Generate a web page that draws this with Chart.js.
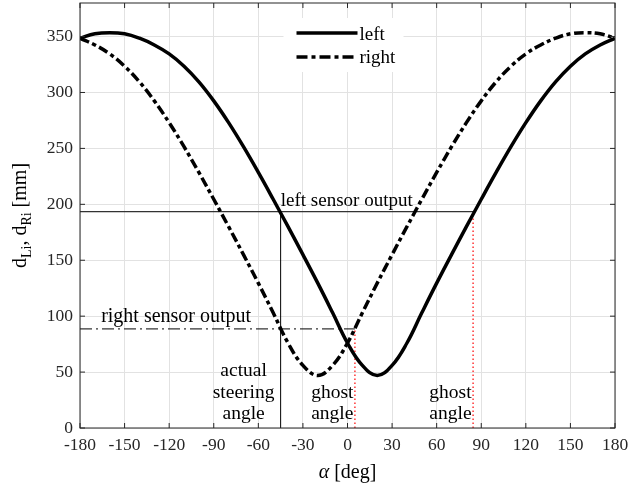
<!DOCTYPE html>
<html>
<head>
<script src="https://cdn.jsdelivr.net/npm/chart.js@4.4.1/dist/chart.umd.min.js"></script>
<style>
  body { margin: 0; background: #fff; }
</style>
</head>
<body>
<canvas id="myChart" width="629" height="491"></canvas>
<script>
// steering angle alpha [deg]
const alpha = [-180, -170, -160, -150, -140, -130, -120, -110, -100, -90, -80, -70, -60, -50, -40, -30, -20, -10,
  0, 10, 20, 30, 40, 50, 60, 70, 80, 90, 100, 110, 120, 130, 140, 150, 160, 170, 180]
// left sensor distance d_Li [mm]
const leftD = [348.5, 352.5, 353.5, 352.5, 348.5, 342.5, 334.5, 323.5, 309.5, 292.5, 273, 251.5, 228.5, 204.5, 180, 155, 129.5, 103,
  76, 56, 47, 56, 76, 103, 129.5, 155, 180, 204.5, 228.5, 251.5, 273, 292.5, 309.5, 323.5, 334.5, 342.5, 348.5]
// right sensor distance d_Ri [mm]
const rightD = [348.5, 342.5, 334.5, 323.5, 309.5, 292.5, 273, 251.5, 228.5, 204.5, 180, 155, 129.5, 103, 76, 56, 47, 56,
  76, 103, 129.5, 155, 180, 204.5, 228.5, 251.5, 273, 292.5, 309.5, 323.5, 334.5, 342.5, 348.5, 352.5, 353.5, 352.5, 348.5]

const leftSensor = 193.5    // left sensor output
const rightSensor = 88.6    // right sensor output
const actualAngle = -45
const ghostAngles = [5, 84.5]

const xTicks = [-180, -150, -120, -90, -60, -30, 0, 30, 60, 90, 120, 150, 180]
const yTicks = [0, 50, 100, 150, 200, 250, 300, 350]

const serif = "'Liberation Serif', 'DejaVu Serif', serif"
const pts = (xs, ys) => xs.map((v, i) => ({ x: v, y: ys[i] }))

// legend, box, inward ticks, labels
const extras = {
  id: 'extras',
  afterDatasetsDraw(chart) {
    const { ctx, chartArea: a, scales: { x, y } } = chart
    ctx.save()

    // axes box + ticks pointing inward
    ctx.strokeStyle = '#262626'
    ctx.lineWidth = 1
    ctx.setLineDash([])
    ctx.strokeRect(a.left, a.top, a.right - a.left, a.bottom - a.top)
    ctx.beginPath()
    xTicks.forEach(v => {
      const px = x.getPixelForValue(v)
      ctx.moveTo(px, a.bottom); ctx.lineTo(px, a.bottom - 5)
      ctx.moveTo(px, a.top); ctx.lineTo(px, a.top + 5)
    })
    yTicks.forEach(v => {
      const py = y.getPixelForValue(v)
      ctx.moveTo(a.left, py); ctx.lineTo(a.left + 5, py)
      ctx.moveTo(a.right, py); ctx.lineTo(a.right - 5, py)
    })
    ctx.stroke()

    // legend
    const cx = (a.left + a.right) / 2
    ctx.fillStyle = '#fff'
    ctx.fillRect(cx - 64, 18, 120, 54)
    ctx.strokeStyle = '#000'
    ctx.lineWidth = 3.5
    ctx.lineCap = 'butt'
    ctx.beginPath(); ctx.moveTo(cx - 51, 33); ctx.lineTo(cx + 10, 33); ctx.stroke()
    ctx.setLineDash([11, 4, 4, 4])
    ctx.beginPath(); ctx.moveTo(cx - 51, 57); ctx.lineTo(cx + 10, 57); ctx.stroke()
    ctx.setLineDash([])
    ctx.fillStyle = '#000'
    ctx.font = '19px ' + serif
    ctx.textAlign = 'left'
    ctx.textBaseline = 'alphabetic'
    ctx.fillText('left', cx + 12, 39.5)
    ctx.fillText('right', cx + 12, 62.5)

    // annotations
    ctx.font = '19px ' + serif
    ctx.textAlign = 'center'
    ctx.fillText('left sensor output', x.getPixelForValue(-0.5), y.getPixelForValue(leftSensor) - 6)
    ctx.font = '20px ' + serif
    ctx.fillText('right sensor output', x.getPixelForValue(-115.3), y.getPixelForValue(rightSensor) - 7)
    ctx.font = '19.5px ' + serif
    const ax = x.getPixelForValue(actualAngle) - 37
    ctx.fillText('actual', ax, a.bottom - 52)
    ctx.fillText('steering', ax, a.bottom - 30)
    ctx.fillText('angle', ax, a.bottom - 9)
    ctx.textAlign = 'right'
    ghostAngles.forEach(g => {
      const gx = x.getPixelForValue(g) - 1.5
      ctx.fillText('ghost', gx, a.bottom - 30)
      ctx.fillText('angle', gx, a.bottom - 9)
    })

    // x axis title: α [deg]
    ctx.textAlign = 'left'
    ctx.font = 'italic 20px ' + serif
    const wA = ctx.measureText('α').width
    ctx.font = '20px ' + serif
    const wR = ctx.measureText(' [deg]').width
    const tx = cx - (wA + wR) / 2
    ctx.font = 'italic 20px ' + serif
    ctx.fillText('α', tx, 478)
    ctx.font = '20px ' + serif
    ctx.fillText(' [deg]', tx + wA, 478)

    // y axis title: d_Li, d_Ri [mm]
    const parts = [['d', 0], ['Li', 1], [', d', 0], ['Ri', 1], [' [mm]', 0]]
    const fontOf = s => s ? '14px ' + serif : '20px ' + serif
    let total = 0
    parts.forEach(p => { ctx.font = fontOf(p[1]); total += ctx.measureText(p[0]).width })
    ctx.translate(26, (a.top + a.bottom) / 2)
    ctx.rotate(-Math.PI / 2)
    let px = -total / 2
    parts.forEach(p => {
      ctx.font = fontOf(p[1])
      ctx.fillText(p[0], px, p[1] ? 5 : 0)
      px += ctx.measureText(p[0]).width
    })
    ctx.restore()
  }
}

const refLine = (data, color, width, dash) => ({
  data: data, borderColor: color, borderWidth: width, borderDash: dash,
  pointRadius: 0, fill: false, tension: 0
})

const config = {
  type: 'line',
  data: {
    datasets: [
      {
        label: 'left', data: pts(alpha, leftD), borderColor: '#000', borderWidth: 3.5,
        pointRadius: 0, fill: false, tension: 0.4, borderCapStyle: 'butt'
      },
      {
        label: 'right', data: pts(alpha, rightD), borderColor: '#000', borderWidth: 3.5,
        borderDash: [10, 3.5, 4, 3.5], pointRadius: 0, fill: false,
        tension: 0.4, borderCapStyle: 'butt'
      },
      refLine([{ x: -180, y: leftSensor }, { x: ghostAngles[1], y: leftSensor }], '#333', 1.2, []),
      refLine([{ x: actualAngle, y: 0 }, { x: actualAngle, y: leftSensor }], '#000', 1, []),
      refLine([{ x: -180, y: rightSensor }, { x: ghostAngles[0], y: rightSensor }], '#000', 1, [12, 4, 2, 4]),
      refLine([{ x: ghostAngles[0], y: 0 }, { x: ghostAngles[0], y: rightSensor }], '#ff0000', 1.2, [1.5, 2.5]),
      refLine([{ x: ghostAngles[1], y: 0 }, { x: ghostAngles[1], y: leftSensor }], '#ff0000', 1.2, [1.5, 2.5])
    ]
  },
  options: {
    responsive: false,
    devicePixelRatio: 1,
    animation: false,
    layout: { padding: { top: 3, right: 14, left: 0, bottom: 0 } },
    plugins: { legend: { display: false }, tooltip: { enabled: false } },
    scales: {
      x: {
        type: 'linear', min: -180, max: 180,
        afterBuildTicks: s => { s.ticks = xTicks.map(v => ({ value: v })) },
        afterFit: s => { s.height = 63; s.paddingLeft = 0; s.paddingRight = 0 },
        grid: { color: '#e2e2e2', lineWidth: 1, drawTicks: false },
        border: { display: false },
        ticks: { padding: 7, color: '#262626', font: { family: serif, size: 17.5 }, callback: v => String(v), maxRotation: 0 }
      },
      y: {
        type: 'linear', min: 0, max: 380,
        afterBuildTicks: s => { s.ticks = yTicks.map(v => ({ value: v })) },
        afterFit: s => { s.width = 80; s.paddingTop = 0; s.paddingBottom = 0 },
        grid: { color: '#e2e2e2', lineWidth: 1, drawTicks: false },
        border: { display: false },
        ticks: { padding: 7, color: '#262626', font: { family: serif, size: 17.5 }, callback: v => String(v) }
      }
    }
  },
  plugins: [extras]
}

const myChart = new Chart(document.getElementById('myChart'), config)
</script>
</body>
</html>
